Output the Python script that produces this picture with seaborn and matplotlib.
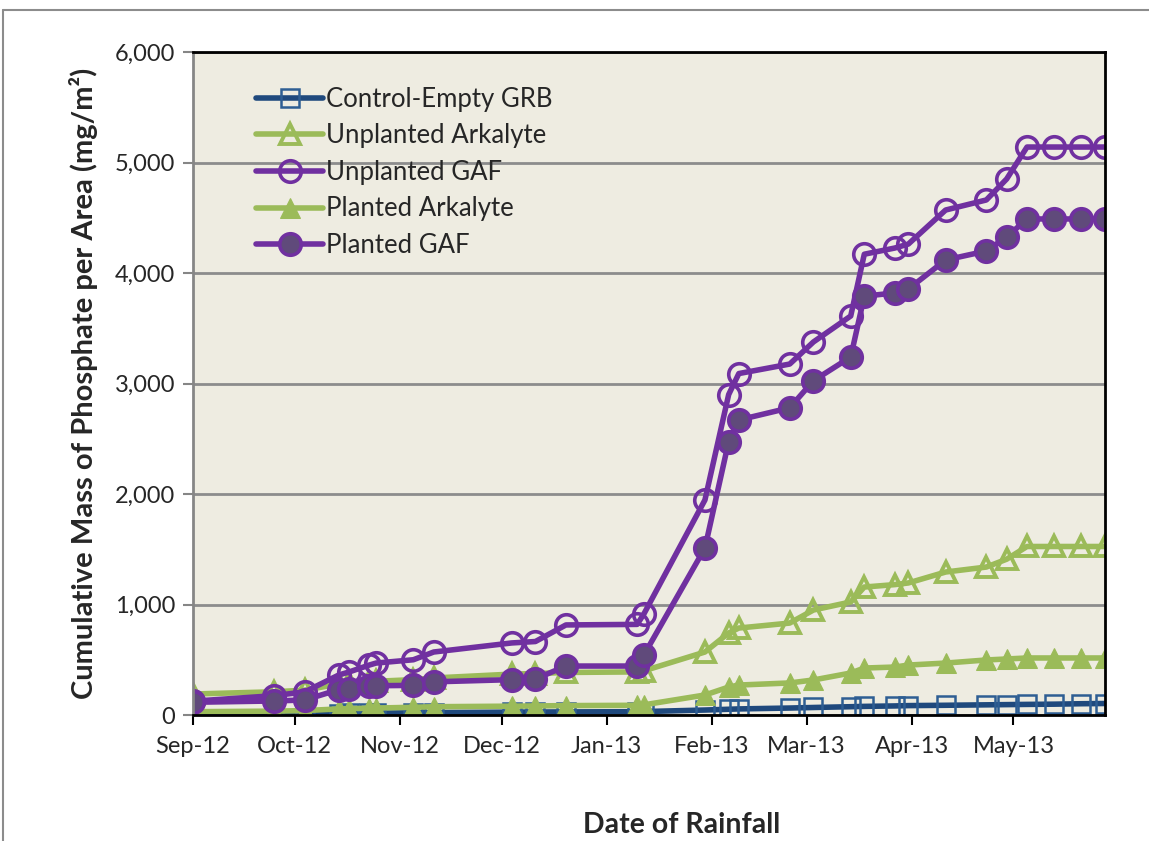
import pandas as pd
import matplotlib
matplotlib.use("Agg")
import matplotlib.pyplot as plt
import matplotlib.dates as mdates
from matplotlib.lines import Line2D
from matplotlib.ticker import FuncFormatter, MultipleLocator
import seaborn as sns

# даты дождей
dates = pd.to_datetime([
    "2012-09-01", "2012-09-25", "2012-10-04", "2012-10-14", "2012-10-17",
    "2012-10-23", "2012-10-25", "2012-11-05", "2012-11-11", "2012-12-04",
    "2012-12-11", "2012-12-20", "2013-01-10", "2013-01-12", "2013-01-30",
    "2013-02-06", "2013-02-09", "2013-02-24", "2013-03-03", "2013-03-14",
    "2013-03-18", "2013-03-27", "2013-03-31", "2013-04-11", "2013-04-23",
    "2013-04-29", "2013-05-05", "2013-05-13", "2013-05-21", "2013-05-28",
])

control = [0, 5, 8, 12, 14, 16, 17, 20, 22, 26, 27, 28, 30, 31, 45,
           52, 55, 63, 68, 75, 78, 82, 85, 88, 92, 94, 96, 98, 102, 104]
unplanted_ark = [190, 210, 225, 280, 290, 300, 305, 320, 335, 370, 375, 385, 390, 400, 570,
                 742, 787, 832, 950, 1023, 1158, 1180, 1195, 1294, 1339, 1410, 1525, 1525, 1525, 1525]
unplanted_gaf = [125, 175, 210, 362, 389, 452, 470, 500, 570, 652, 665, 815, 820, 915, 1946,
                 2900, 3090, 3176, 3376, 3611, 4170, 4226, 4262, 4570, 4661, 4851, 5140, 5140, 5140, 5140]
planted_ark = [30, 35, 40, 55, 57, 62, 63, 70, 75, 80, 82, 85, 88, 92, 181,
               253, 271, 290, 317, 380, 425, 434, 452, 470, 498, 507, 516, 516, 516, 516]
planted_gaf = [115, 127, 136, 230, 235, 262, 265, 268, 300, 320, 326, 443, 443, 543, 1511,
               2475, 2670, 2780, 3025, 3240, 3790, 3820, 3855, 4118, 4199, 4326, 4489, 4489, 4489, 4489]

sns.set_style("white")
plt.rcParams['font.family'] = ['Lato', 'DejaVu Sans']

fig = plt.figure(figsize=(11.49, 8.41), dpi=100)
ax = fig.add_axes([193 / 1149, 1 - 715 / 841, (1105 - 193) / 1149, (715 - 52) / 841])
ax.set_facecolor("#EEECE1")

navy = "#1F497D"
green = "#9BBB59"
purple = "#7030A0"

series = [
    ("Control-Empty GRB", control, dict(color=navy, marker="s", markersize=13,
                                        markerfacecolor="none", markeredgecolor="#2E5E93", markeredgewidth=1.8)),
    ("Unplanted Arkalyte", unplanted_ark, dict(color=green, marker="^", markersize=15,
                                               markerfacecolor="none", markeredgecolor=green, markeredgewidth=2.8)),
    ("Unplanted GAF", unplanted_gaf, dict(color=purple, marker="o", markersize=15.5,
                                          markerfacecolor="none", markeredgecolor=purple, markeredgewidth=2.6)),
    ("Planted Arkalyte", planted_ark, dict(color=green, marker="^", markersize=15,
                                           markerfacecolor=green, markeredgecolor=green)),
    ("Planted GAF", planted_gaf, dict(color=purple, marker="o", markersize=15.5,
                                      markerfacecolor="#604A7B", markeredgecolor=purple, markeredgewidth=2.6)),
]

for name, vals, st in series:
    sns.lineplot(x=dates, y=vals, ax=ax, label=name, linewidth=4, **st)

ax.set_xlim(pd.Timestamp("2012-09-01"), pd.Timestamp("2013-05-28"))
ax.set_ylim(0, 6000)
ax.yaxis.set_major_locator(MultipleLocator(1000))
ax.yaxis.set_major_formatter(FuncFormatter(lambda v, p: f"{int(v):,}"))
ax.xaxis.set_major_locator(mdates.MonthLocator())
ax.xaxis.set_major_formatter(mdates.DateFormatter("%b-%y"))

ax.grid(axis="y", color="#8C8C8C", linewidth=2)
ax.set_axisbelow(True)
for s in ["top", "right", "bottom"]:
    ax.spines[s].set_color("black")
    ax.spines[s].set_linewidth(2)
ax.spines["left"].set_color("#868686")
ax.spines["left"].set_linewidth(2)

ax.tick_params(axis="x", direction="out", length=7, width=1.5, color="black",
               labelsize=17, pad=8, bottom=True)
ax.tick_params(axis="y", direction="out", length=7, width=1.5, color="#868686",
               labelsize=17, pad=6, left=True)

ax.set_xlabel("")
ax.set_ylabel("Cumulative Mass of Phosphate per Area (mg/m²)", fontsize=21,
              fontweight="bold", labelpad=12)
fig.text(682 / 1149, 1 - 825 / 841, "Date of Rainfall", fontsize=20.5,
         fontweight="bold", ha="center", va="center")

ax.legend(loc="upper left", bbox_to_anchor=(0.058, 0.963), frameon=False,
          fontsize=18.5, handlelength=2.6, handletextpad=0.1, labelspacing=0.45,
          borderaxespad=0)

# рамка диаграммы
fig.add_artist(Line2D([3 / 1149, 1], [1 - 10 / 841, 1 - 10 / 841],
                      transform=fig.transFigure, color="#8C8C8C", linewidth=1.5))
fig.add_artist(Line2D([3 / 1149, 3 / 1149], [0, 1 - 10 / 841],
                      transform=fig.transFigure, color="#8C8C8C", linewidth=1.5))

fig.savefig("out.png", dpi=100)
plt.close(fig)
